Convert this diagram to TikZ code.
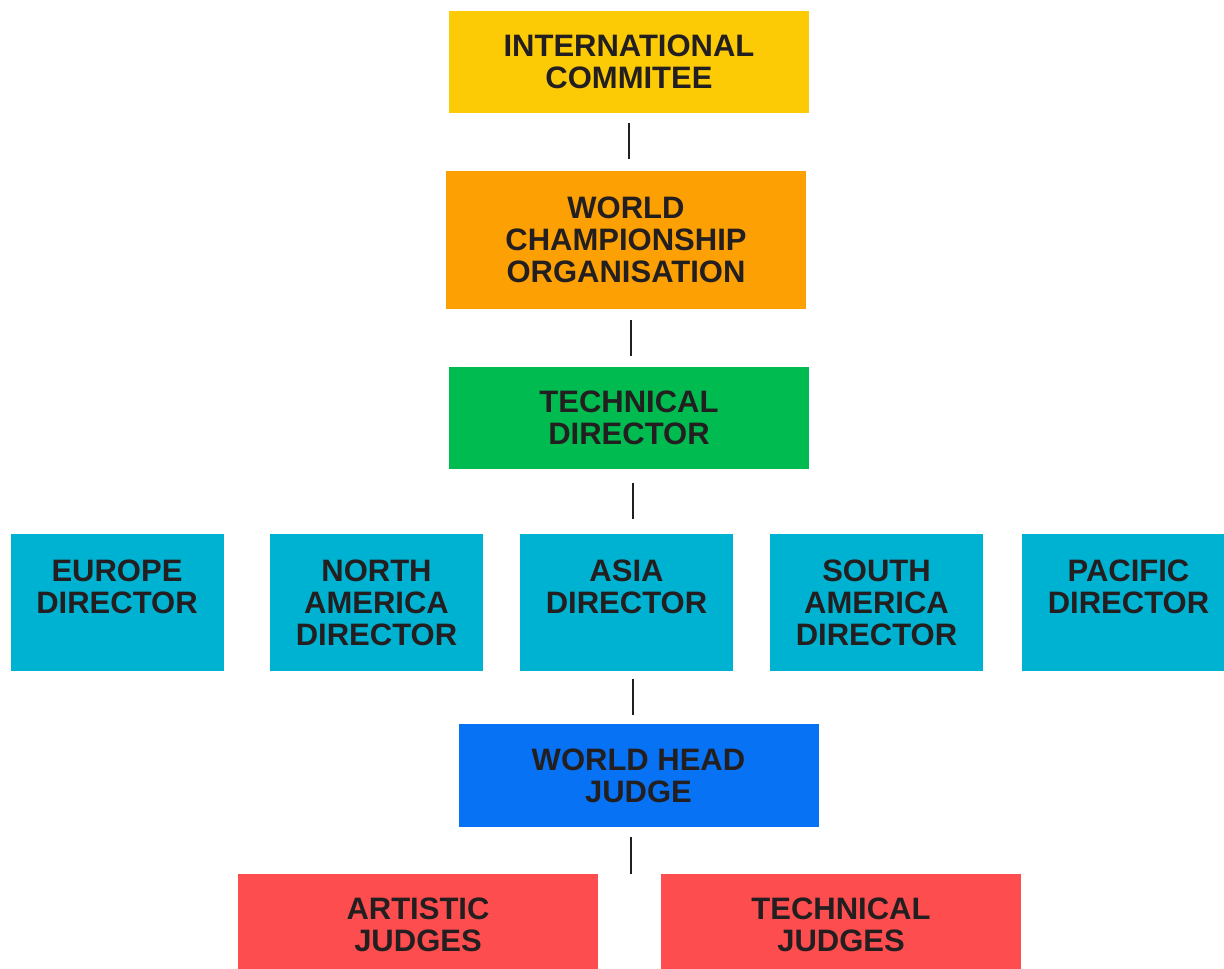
\documentclass[tikz,border=0pt]{standalone}
\usepackage{fontspec}
\setmainfont{Liberation Sans}
\usetikzlibrary{calc}
\definecolor{ink}{HTML}{231F20}
\definecolor{cyellow}{HTML}{FCCB06}
\definecolor{corange}{HTML}{FCA004}
\definecolor{cgreen}{HTML}{00BB4F}
\definecolor{ccyan}{HTML}{00B2D2}
\definecolor{cblue}{HTML}{0872F4}
\definecolor{cred}{HTML}{FE4D4F}
\tikzset{
  box/.style={rectangle, draw=none, inner sep=0pt, align=center, text=ink,
    font=\fontsize{31}{32}\selectfont\bfseries},
  wide/.style={box, minimum width=360pt, minimum height=102pt},
  dir/.style={box, fill=ccyan, minimum width=213pt, minimum height=137pt},
  conn/.style={draw=ink, line width=2pt}
}
\begin{document}
\begin{tikzpicture}[x=1pt,y=-1pt]
\clip (0,0) rectangle (1224,969);
\fill[white] (0,0) rectangle (1224,969);
\node[wide, fill=cyellow] (ic) at (629,62) {INTERNATIONAL\\COMMITEE};
\node[wide, fill=corange, minimum height=138pt] (wco) at (626,240) {WORLD\\CHAMPIONSHIP\\ORGANISATION};
\node[wide, fill=cgreen] (td) at (629,418) {TECHNICAL\\DIRECTOR};
\node[dir] (eu) at (117,602.5) {EUROPE\\DIRECTOR\\\mbox{}};
\node[dir] (na) at (376.5,602.5) {NORTH\\AMERICA\\DIRECTOR};
\node[dir] (asia) at (626.5,602.5) {ASIA\\DIRECTOR\\\mbox{}};
\node[dir] (sa) at (876.5,602.5) {SOUTH\\AMERICA\\DIRECTOR};
\node[dir] (pac) at (1128.5,602.5) {PACIFIC\\DIRECTOR\\\mbox{}};
\node[wide, fill=cblue, minimum height=103pt] (whj) at (638.5,775.5) {WORLD HEAD\\JUDGE};
\node[wide, fill=cred] (aj) at (418,925) {ARTISTIC\\JUDGES};
\node[wide, fill=cred] (tj) at (841,925) {TECHNICAL\\JUDGES};
\draw[conn] ([yshift=-10pt]ic.south) -- ($(ic.south |- wco.north)+(0,-12)$);
\draw[conn] ($(wco.south)+(5,11)$) -- ($(wco.south |- td.north)+(5,-11)$);
\draw[conn] ($(td.south)+(4,14)$) -- ($(td.south |- asia.north)+(4,-15)$);
\draw[conn] ($(asia.south)+(6.5,8)$) -- ($(asia.south |- whj.north)+(6.5,-9)$);
\draw[conn] ($(whj.south)+(-7.5,10)$) -- ($(whj.south |- aj.north)+(-7.5,0)$);
\end{tikzpicture}
\end{document}
